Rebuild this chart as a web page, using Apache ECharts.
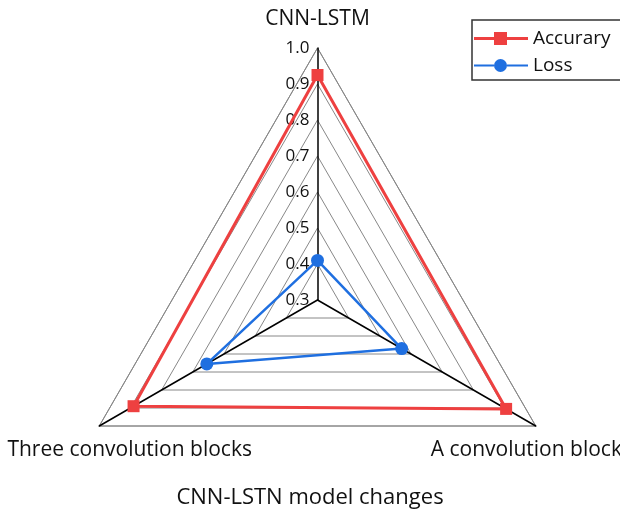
<!DOCTYPE html>
<html>
<head>
<meta charset="utf-8">
<script src="https://cdn.jsdelivr.net/npm/echarts@6/dist/echarts.min.js"></script>
<style>
html,body{margin:0;padding:0;background:#fff;}
#chart{width:620px;height:516px;}
</style>
</head>
<body>
<div id="chart"></div>
<script>
var indicatorNames = ['CNN-LSTM', 'Three convolution blocks', 'A convolution block'];
var accuracyValues = [0.925, 0.89, 0.905];
var lossValues = [0.41, 0.655, 0.57];
var seriesNames = ['Accurary', 'Loss'];
var axisMin = 0.3;
var axisMax = 1.0;
var xLabel = 'CNN-LSTN model changes';

var FONT = 'Open Sans';
var chart = echarts.init(document.getElementById('chart'), null, {renderer: 'canvas'});

var nameStyles = [
  {align: 'center', verticalAlign: 'bottom'},
  {align: 'center', verticalAlign: 'top', padding: [5, 0, 0, 92]},
  {align: 'center', verticalAlign: 'top', padding: [5, 50, 0, 0]}
];

var indicators = indicatorNames.map(function (n, i) {
  return {
    name: n, min: axisMin, max: axisMax,
    nameTextStyle: nameStyles[i],
    axisLabel: {show: i === 0}
  };
});

var RED = '#ee4040';
var BLUE = '#1f6fe0';
var iconAcc = 'path://M0,5h20v3h-20z M20,0h13v13h-13z M33,5h21v3h-21z';
var iconLoss = 'path://M0,5.5h20v2h-20z M33,6.5A6.5,6.5 0 1 1 20,6.5A6.5,6.5 0 1 1 33,6.5z M33,5.5h21v2h-21z';

chart.setOption({
  animation: false,
  backgroundColor: '#fff',
  title: {
    text: xLabel,
    left: 'center',
    bottom: 2,
    textStyle: {fontFamily: FONT, fontSize: 22, fontWeight: 'normal', color: '#111'}
  },
  legend: {
    data: [
      {name: seriesNames[0], icon: iconAcc, itemStyle: {color: RED}},
      {name: seriesNames[1], icon: iconLoss, itemStyle: {color: BLUE}}
    ],
    orient: 'vertical',
    left: 472,
    top: 20,
    itemWidth: 54,
    itemHeight: 13,
    itemGap: 8,
    padding: [9, 40, 5, 2],
    borderColor: '#333',
    borderWidth: 1.5,
    backgroundColor: '#fff',
    textStyle: {fontFamily: FONT, fontSize: 19, color: '#111'}
  },
  radar: {
    center: [317.5, 300],
    radius: 252,
    shape: 'polygon',
    splitNumber: 7,
    indicator: indicators,
    nameGap: 18,
    axisName: {color: '#111', fontFamily: FONT, fontSize: 21},
    axisLine: {lineStyle: {color: '#000', width: 1.5}},
    splitLine: {lineStyle: {color: '#888', width: 1}},
    splitArea: {show: false},
    axisTick: {show: false},
    axisLabel: {
      show: false,
      color: '#111',
      fontFamily: FONT,
      fontSize: 17,
      margin: 8,
      formatter: function (v) { return Number(v).toFixed(1); }
    }
  },
  series: [{
    type: 'radar',
    data: [
      {
        name: seriesNames[0],
        value: accuracyValues,
        symbol: 'rect',
        symbolSize: 12,
        lineStyle: {color: RED, width: 3},
        itemStyle: {color: RED}
      },
      {
        name: seriesNames[1],
        value: lossValues,
        symbol: 'circle',
        symbolSize: 13,
        lineStyle: {color: BLUE, width: 2.5},
        itemStyle: {color: BLUE}
      }
    ]
  }]
});
</script>
</body>
</html>
